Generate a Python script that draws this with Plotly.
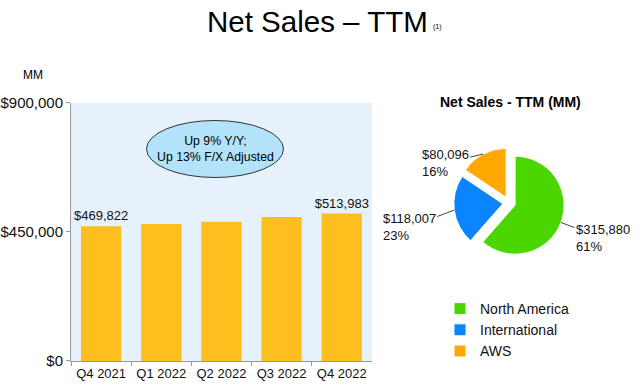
import math
import plotly.graph_objects as go

quarters = ["Q4 2021", "Q1 2022", "Q2 2022", "Q3 2022", "Q4 2022"]
ttm_sales = [469822, 477748, 485902, 502191, 513983]
bar_labels = ["$469,822", "", "", "", "$513,983"]

segments = ["North America", "International", "AWS"]
segment_sales = [315880, 118007, 80096]
segment_colors = ["#4cd600", "#0a84ff", "#ffa800"]

y_ticks = [0, 450000, 900000]
y_tick_text = ["$0", "$450,000", "$900,000"]

W, H = 640, 384
PIE_X = [0.709, 0.882]
PIE_Y = [0.327, 0.616]
PULL = 0.13

fig = go.Figure()

fig.add_trace(go.Bar(
    x=quarters, y=ttm_sales, text=bar_labels, textposition="outside",
    cliponaxis=False, constraintext="none",
    textfont=dict(size=13, color="#111"),
    marker=dict(color="#fdbf1e", line=dict(width=0)),
    width=0.67, showlegend=False,
))

fig.add_trace(go.Pie(
    labels=segments, values=segment_sales, sort=False, direction="clockwise",
    rotation=0, marker=dict(colors=segment_colors, line=dict(color="white", width=1)),
    pull=[PULL] * len(segments), textinfo="none", hoverinfo="label+value+percent",
    domain=dict(x=PIE_X, y=PIE_Y), showlegend=True,
))

# outside labels with short leader lines, positioned from the slice angles
cx = (PIE_X[0] + PIE_X[1]) / 2 * W
cy = (PIE_Y[0] + PIE_Y[1]) / 2 * H
r = min((PIE_X[1] - PIE_X[0]) * W, (PIE_Y[1] - PIE_Y[0]) * H) / (2 + 2 * PULL)
total = sum(segment_sales)
label_offsets = [(42, 16), (-45, 17), (-38, 9)]
pie_annotations = []
cum = 0
for name, v, (ox, oy) in zip(segments, segment_sales, label_offsets):
    mid = (cum + v / 2) / total * 2 * math.pi
    cum += v
    R = r * (1 + PULL)
    px = cx + math.sin(mid) * R
    py = cy + math.cos(mid) * R
    pie_annotations.append(dict(
        x=px / W, y=py / H, xref="paper", yref="paper",
        text=f"${v:,}<br>{round(v / total * 100)}%", align="left",
        showarrow=True, arrowhead=0, arrowwidth=1, arrowcolor="#444",
        ax=ox, ay=oy, standoff=0, font=dict(size=13, color="#111"),
    ))

fig.update_layout(
    width=W, height=H,
    margin=dict(l=0, r=0, t=0, b=0),
    paper_bgcolor="white",
    plot_bgcolor="#e7f1fc",
    font=dict(family="Liberation Sans, Arial, sans-serif", color="#111"),
    xaxis=dict(domain=[0.111, 0.581], showgrid=False, ticks="outside",
               tickson="boundaries", ticklen=4, tickcolor="#999",
               showline=True, linecolor="#999", linewidth=1,
               tickfont=dict(size=13), automargin=False),
    yaxis=dict(domain=[0.060, 0.732], range=[0, 900000], tickvals=y_ticks,
               ticktext=y_tick_text, showgrid=False, ticks="outside",
               ticklen=4, tickcolor="#999", showline=True, linecolor="#999",
               linewidth=1, tickfont=dict(size=15), zeroline=False,
               automargin=False),
    bargap=0.33,
    legend=dict(x=440 / W, y=1 - 293 / H, xanchor="left", yanchor="top",
                font=dict(size=14), tracegroupgap=0,
                bgcolor="rgba(0,0,0,0)"),
    shapes=[dict(type="circle", xref="paper", yref="paper",
                 x0=(215 - 68.5) / W, x1=(215 + 68.5) / W,
                 y0=(H - 149 - 28.5) / H, y1=(H - 149 + 28.5) / H,
                 fillcolor="#b3e3fb", line=dict(color="#333", width=1))],
    annotations=[
        dict(text="Net Sales – TTM", x=317 / W, y=1 - 21 / H, xref="paper", yref="paper",
             showarrow=False, font=dict(size=29.5, color="#000"), xanchor="center", yanchor="middle"),
        dict(text="(1)", x=437 / W, y=1 - 27 / H, xref="paper", yref="paper",
             showarrow=False, font=dict(size=7, color="#000"), xanchor="center", yanchor="middle"),
        dict(text="MM", x=33 / W, y=1 - 75 / H, xref="paper", yref="paper",
             showarrow=False, font=dict(size=12, color="#000"), xanchor="center", yanchor="middle"),
        dict(text="Up 9% Y/Y;<br>Up 13% F/X Adjusted", x=215 / W, y=1 - 149 / H,
             xref="paper", yref="paper", showarrow=False, font=dict(size=12.3, color="#000"),
             xanchor="center", yanchor="middle"),
        dict(text="<b>Net Sales - TTM (MM)</b>", x=510 / W, y=1 - 102 / H,
             xref="paper", yref="paper", showarrow=False, font=dict(size=14, color="#000"),
             xanchor="center", yanchor="middle"),
    ] + pie_annotations,
)

fig.write_html("out.html", config={"displayModeBar": False},
               post_script="document.body.style.margin='0';")
